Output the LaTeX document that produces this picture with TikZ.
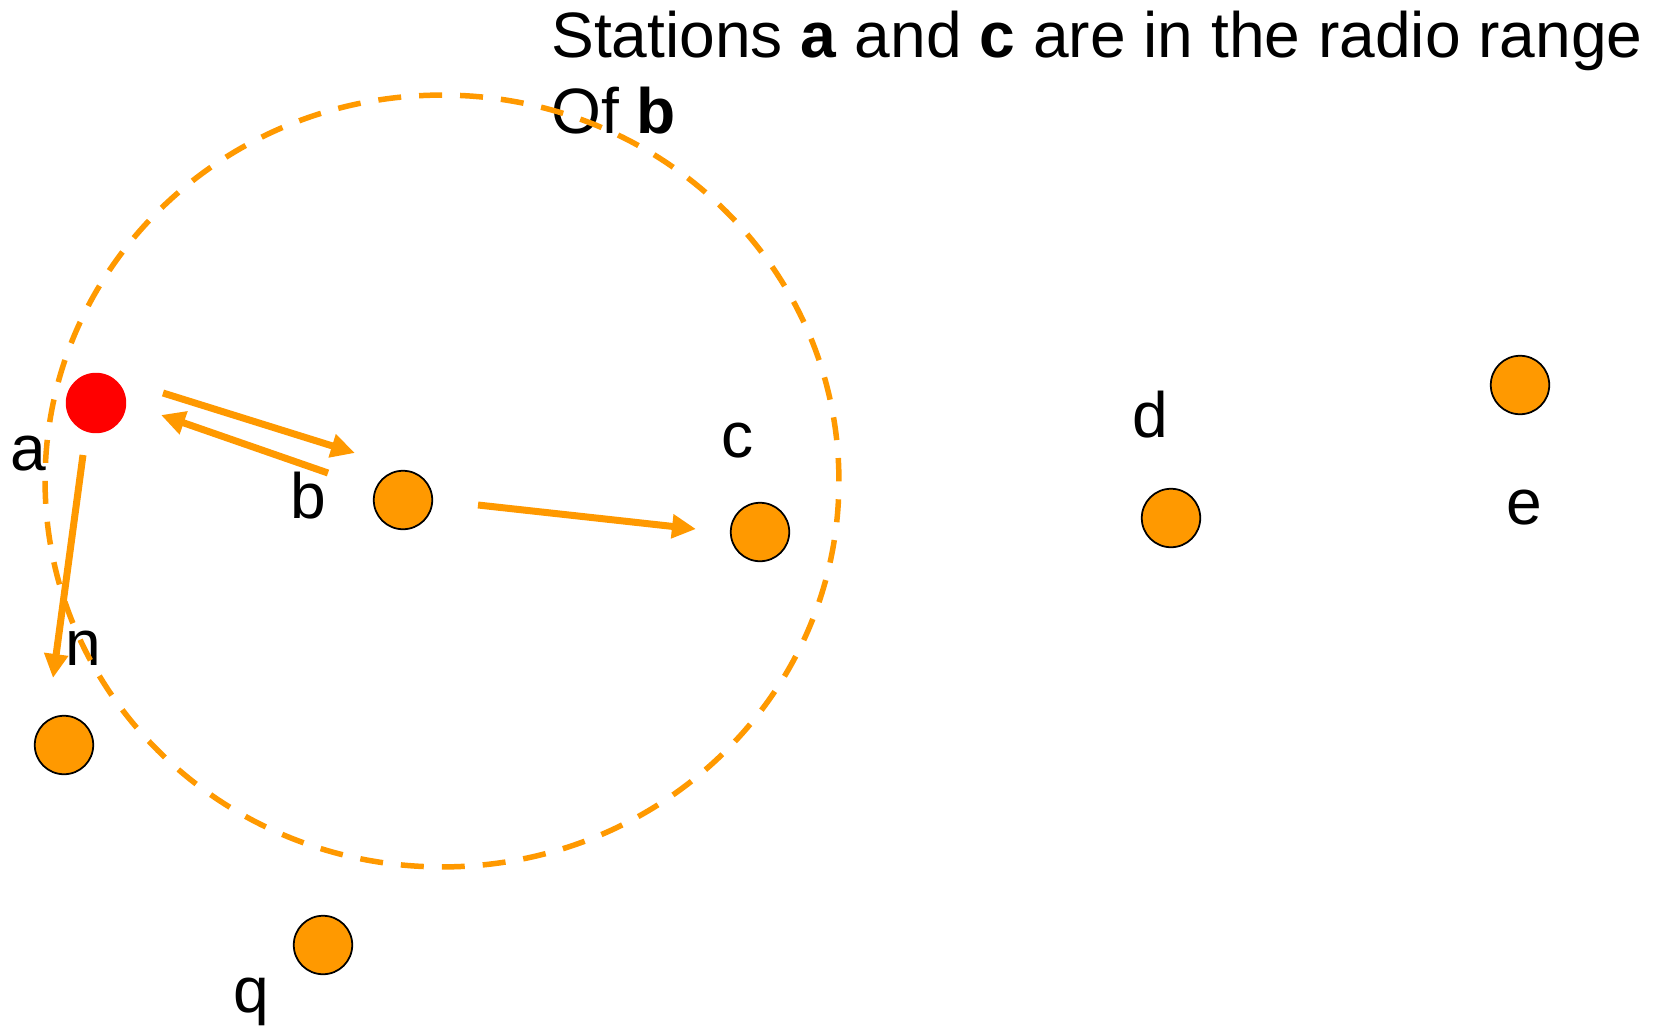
\documentclass[tikz,border=0pt]{standalone}
\usepackage{fontspec}
\setmainfont{Liberation Sans}
\usetikzlibrary{arrows.meta,calc}
\definecolor{radioOrange}{HTML}{FF9900}
\definecolor{radioRed}{HTML}{FF0000}

\begin{document}
\begin{tikzpicture}[x=0.02cm,y=-0.02cm,font=\fontsize{36.5}{43.8}\selectfont,
    station/.style={circle,draw=black,line width=1pt,fill=radioOrange,
                    minimum size=1.17cm,inner sep=0pt},
    sender/.style={station,draw=none,fill=radioRed,minimum size=1.21cm},
    lbl/.style={anchor=base,inner sep=0pt},
    sig/.style={draw=radioOrange,line width=0.14cm,
                -{Triangle[length=0.48cm,width=0.46cm]}}]
    \path[use as bounding box,fill=white] (0,0) rectangle (1659,1027);

    % caption
    \node[anchor=base west,inner sep=0pt] (cap1) at (551,58)
      {Stations \textbf{a} and \textbf{c} are in the radio range};
    \node[anchor=base west,inner sep=0pt] (cap2) at (551,134) {Of \textbf{b}};

    % labels
    \node[lbl] (la) at (28,470) {a};
    \node[lbl] (lb) at (308,518) {b};
    \node[lbl] (lc) at (738,457) {c};
    \node[lbl] (ld) at (1150,437) {d};
    \node[lbl] (le) at (1524,524) {e};
    \node[lbl] (ln) at (83,665) {n};
    \node[lbl] (lq) at (251,1012) {q};

    % radio range of b
    \draw[radioOrange,line width=0.11cm,dash pattern=on 0.46cm off 0.36cm]
      (442,481) ellipse [x radius=7.94cm,y radius=7.72cm];

    % stations
    \node[sender]  (a) at (96,403) {};
    \node[station] (b) at (403,500) {};
    \node[station] (c) at (760,532) {};
    \node[station] (d) at (1171,518) {};
    \node[station] (e) at (1520,385) {};
    \node[station] (n) at (64,745) {};
    \node[station] (q) at (323,945) {};

    % transmissions
    \draw[sig] ($(a)+(67,-10)$) -- ($(b)+(-48,-47)$);
    \draw[sig] ($(b)+(-75,-27)$) -- ($(a)+(65,12)$);
    \draw[sig] ($(b)+(75,5)$) -- ($(c)+(-64,-3)$);
    \draw[sig] ($(a)+(-13,52)$) -- ($(n)+(-11,-67)$);
\end{tikzpicture}
\end{document}
